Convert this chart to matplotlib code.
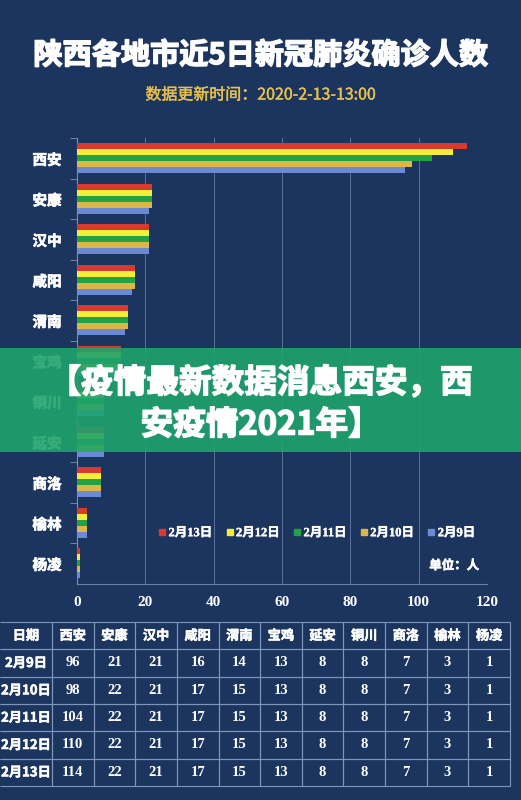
import matplotlib.pyplot as plt
import matplotlib.patheffects as pe
from matplotlib.lines import Line2D
from matplotlib.patches import Rectangle

cities = ['西安', '安康', '汉中', '咸阳', '渭南', '宝鸡', '铜川', '延安', '商洛', '榆林', '杨凌']
v_0213 = [114, 22, 21, 17, 15, 13, 8, 8, 7, 3, 1]
v_0212 = [110, 22, 21, 17, 15, 13, 8, 8, 7, 3, 1]
v_0211 = [104, 22, 21, 17, 15, 13, 8, 8, 7, 3, 1]
v_0210 = [98, 22, 21, 17, 15, 13, 8, 8, 7, 3, 1]
v_0209 = [96, 21, 21, 16, 14, 13, 8, 8, 7, 3, 1]
dates = ['2月13日', '2月12日', '2月11日', '2月10日', '2月9日']
colors = ['#d93a2e', '#f2ee3a', '#23a145', '#dcb648', '#6b8ad6']

table_cols = ['日期', '西安', '安康', '汉中', '咸阳', '渭南', '宝鸡', '延安', '铜川', '商洛', '榆林', '杨凌']
table_rows = [
    ['2月9日', 96, 21, 21, 16, 14, 13, 8, 8, 7, 3, 1],
    ['2月10日', 98, 22, 21, 17, 15, 13, 8, 8, 7, 3, 1],
    ['2月11日', 104, 22, 21, 17, 15, 13, 8, 8, 7, 3, 1],
    ['2月12日', 110, 22, 21, 17, 15, 13, 8, 8, 7, 3, 1],
    ['2月13日', 114, 22, 21, 17, 15, 13, 8, 8, 7, 3, 1],
]

bg = '#1c355f'
cjk = ['Noto Sans CJK SC', 'DejaVu Sans']
serif_cjk = ['Liberation Serif', 'Noto Sans CJK SC']
W, H = 521, 800


def thick(w, c='white'):
    # CJK font has no real bold here, so fake it with a stroke
    return [pe.withStroke(linewidth=w, foreground=c)]


fig = plt.figure(figsize=(W / 100, H / 100), dpi=100, facecolor=bg)

fig.text(0.5, 1 - 55 / H, '陕西各地市近5日新冠肺炎确诊人数', ha='center', va='center',
         color='white', fontsize=21, fontweight='bold', family=cjk, path_effects=thick(1.1))
fig.text(0.5, 1 - 95 / H, '数据更新时间：2020-2-13-13:00', ha='center', va='center',
         color='#e6c04c', fontsize=11.5, family=cjk, path_effects=thick(0.3, '#e6c04c'))

ax = fig.add_axes([77 / W, 1 - 583.5 / H, 410 / W, 445.5 / H])
ax.set_facecolor(bg)
series = [v_0213, v_0212, v_0211, v_0210, v_0209]
h = 0.15
ys = list(range(len(cities)))
for k, (vals, c, lab) in enumerate(zip(series, colors, dates)):
    ax.barh([y + (k - 2) * h for y in ys], vals, height=h, color=c, label=lab, zorder=3)

ax.set_xlim(0, 120)
ax.set_ylim(len(cities) - 0.5, -0.5)
ax.set_xticks(range(0, 121, 20))
ax.set_yticks(ys)
ax.set_yticklabels(cities, family=cjk, fontweight='bold', fontsize=10.5, color='white')
for t in ax.get_yticklabels():
    t.set_path_effects(thick(0.5))
ax.set_yticks([y + 0.5 for y in ys[:-1]] + [-0.5], minor=True)
ax.tick_params(axis='y', which='major', length=0, pad=11)
ax.tick_params(axis='y', which='minor', length=5, color='#8090b0')
ax.tick_params(axis='x', length=0, pad=9, colors='white')
for t in ax.get_xticklabels():
    t.set_family('Liberation Serif')
    t.set_fontweight('bold')
    t.set_fontsize(11)
ax.grid(axis='x', color='#6d80a8', linewidth=0.7, alpha=0.8, zorder=0)
for s in ['top', 'right']:
    ax.spines[s].set_visible(False)
ax.spines['left'].set_color('#8090b0')
ax.spines['bottom'].set_color('#6d80a8')

handles = [Line2D([], [], marker='s', linestyle='', markersize=5, color=c) for c in colors]
leg = ax.legend(handles, dates, loc='center', bbox_to_anchor=(0.585, 0.113), ncol=5,
                frameon=False, handlelength=0.6, handletextpad=0.2, columnspacing=1.1,
                prop={'family': serif_cjk, 'weight': 'bold', 'size': 9})
for t in leg.get_texts():
    t.set_color('white')
    t.set_path_effects(thick(0.3))
ax.text(0.92, 0.04, '单位：人', transform=ax.transAxes, ha='center', va='center',
        color='white', fontsize=9, fontweight='bold', family=cjk, path_effects=thick(0.4))

# table
tax = fig.add_axes([0, 1 - 786 / H, 510 / W, (786 - 622) / H])
tax.axis('off')
cells = [[str(v) for v in row] for row in table_rows]
col_w = [52] + [458 / 11] * 11
tbl = tax.table(cellText=cells, colLabels=table_cols, colWidths=[w / 510 for w in col_w],
                bbox=[0, 0, 1, 1], cellLoc='center')
tbl.auto_set_font_size(False)
for (r, c), cell in tbl.get_celld().items():
    cell.set_facecolor('none')
    cell.set_edgecolor('#7f96bb')
    cell.set_linewidth(0.8)
    if c == 0:
        cell.visible_edges = 'TRB'
    txt = cell.get_text()
    txt.set_color('white')
    txt.set_fontweight('bold')
    if r == 0 or c == 0:
        txt.set_family(cjk)
        txt.set_fontsize(9.5)
        txt.set_path_effects(thick(0.4))
    else:
        txt.set_family('Liberation Serif')
        txt.set_fontsize(10.5)

# overlay banner
fig.patches.append(Rectangle((0, 1 - 452 / H), 1, 104 / H, transform=fig.transFigure,
                             facecolor='#1fa36c', alpha=0.9, zorder=10))
fig.text(0.5, 1 - 383 / H, '【疫情最新数据消息西安，西', ha='center', va='center',
         color='white', fontsize=23.5, fontweight='bold', family=cjk, zorder=11,
         path_effects=thick(1.1))
fig.text(0.5, 1 - 425 / H, '安疫情2021年】', ha='center', va='center',
         color='white', fontsize=23.5, fontweight='bold', family=cjk, zorder=11,
         path_effects=thick(1.1))

fig.savefig('out.png', dpi=100, facecolor=bg)
